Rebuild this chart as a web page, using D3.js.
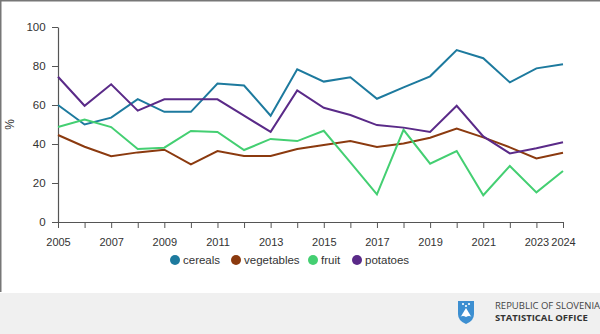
<!DOCTYPE html>
<html>
<head>
<meta charset="utf-8">
<script src="https://cdn.jsdelivr.net/npm/d3@7"></script>
<style>
  body { margin: 0; background: #fff; font-family: "Liberation Sans", Arial, sans-serif; }
  svg { display: block; }
</style>
</head>
<body>
<div id="chart"></div>
<script>
// data
const years = d3.range(2005, 2025);
const tickYears = [2005, 2007, 2009, 2011, 2013, 2015, 2017, 2019, 2021, 2023, 2024];
const yTicks = [0, 20, 40, 60, 80, 100];

const cereals = [60, 50, 53.5, 63, 56.5, 56.5, 71, 70, 54.5, 78.3, 72, 74.2, 63.2, 69, 74.7, 88.2, 84, 71.6, 78.8, 80.9];
const vegetables = [44.6, 38.6, 33.7, 35.7, 37.1, 29.6, 36.4, 33.8, 33.8, 37.4, 39.5, 41.5, 38.5, 40.3, 43.2, 47.9, 43.4, 38.3, 32.6, 35.5];
const fruit = [48.7, 52.6, 48.7, 37.4, 38.1, 46.7, 46.2, 36.9, 42.6, 41.5, 46.8, 30.6, 14.2, 47.3, 29.9, 36.4, 13.7, 28.7, 15.2, 26.2];
const potatoes = [74.5, 59.6, 70.6, 57.1, 62.9, 62.9, 62.9, 54.5, 46.2, 67.5, 58.6, 54.9, 49.7, 48.4, 46.2, 59.6, 43.9, 35.2, 37.8, 40.9];

const seriesNames = ["cereals", "vegetables", "fruit", "potatoes"];
const seriesValues = [cereals, vegetables, fruit, potatoes];
const colors = ["#1d7a9e", "#8b3a0f", "#44cf72", "#5a2a88"];

const W = 600, H = 334;
const margin = { top: 27, right: 37, bottom: 112, left: 58 };
const width = W - margin.left - margin.right;
const height = H - margin.top - margin.bottom;

const svg = d3.select("#chart").append("svg")
    .attr("width", W)
    .attr("height", H);

// frame and footer
svg.append("line").attr("x1", 0).attr("x2", W).attr("y1", 0.5).attr("y2", 0.5).attr("stroke", "#777").attr("stroke-width", 2);
svg.append("line").attr("x1", 0.5).attr("x2", 0.5).attr("y1", 0).attr("y2", 292).attr("stroke", "#777").attr("stroke-width", 2);
svg.append("rect").attr("x", 0).attr("y", 293).attr("width", W).attr("height", H - 293).attr("fill", "#f0f0f0");

const g = svg.append("g")
    .attr("transform", `translate(${margin.left},${margin.top})`);

const x = d3.scaleLinear().domain([2005, 2024]).range([0, width]);
const y = d3.scaleLinear().domain([0, 100]).range([height, 0]);

// axes
const xAxis = g.append("g")
    .attr("transform", `translate(0,${height})`)
    .call(d3.axisBottom(x).tickValues(years).tickSize(6).tickSizeOuter(0)
        .tickFormat(d => tickYears.includes(d) ? d : ""));

const yAxis = g.append("g")
    .call(d3.axisLeft(y).tickValues(yTicks).tickSize(6).tickSizeOuter(0));

[xAxis, yAxis].forEach(a => {
  a.select(".domain").attr("stroke", "#555").attr("stroke-width", 1.2);
  a.selectAll(".tick line").attr("stroke", "#555");
  a.selectAll("text").attr("fill", "#333").style("font-size", "11.5px")
    .style("font-family", "'Liberation Sans', Arial, sans-serif");
});
xAxis.selectAll("text").style("font-size", "11px").attr("dy", "1.35em");
yAxis.selectAll("text").attr("dx", "-0.3em");

g.append("text")
    .attr("transform", `translate(${-44},${height / 2}) rotate(-90)`)
    .attr("text-anchor", "middle")
    .attr("fill", "#333")
    .style("font-size", "12px")
    .text("%");

// lines
const line = d3.line()
    .x((d, i) => x(years[i]))
    .y(d => y(d));

seriesValues.forEach((vals, k) => {
  g.append("path")
      .datum(vals)
      .attr("fill", "none")
      .attr("stroke", colors[k])
      .attr("stroke-width", 2)
      .attr("d", line);
});

// legend
const legendX = [175, 236, 313, 357];
const legend = svg.append("g").attr("transform", "translate(0,260)");
seriesNames.forEach((name, k) => {
  legend.append("circle").attr("cx", legendX[k]).attr("cy", 0).attr("r", 5).attr("fill", colors[k]);
  legend.append("text").attr("x", legendX[k] + 8).attr("y", 0).attr("dy", "0.35em")
      .attr("fill", "#333").style("font-size", "11.5px").text(name);
});

// footer logo
const logo = svg.append("g").attr("transform", "translate(466,312)");
logo.append("path")
    .attr("d", "M-8,-11 L8,-11 L8,2 Q8,9 0,12 Q-8,9 -8,2 Z")
    .attr("fill", "#3d8fd1");
logo.append("path")
    .attr("d", "M-6,6 L-3,1 L0,-4 L3,1 L6,6 Z")
    .attr("fill", "#fff");
logo.append("path")
    .attr("d", "M-6,5 Q-3,3 0,5 Q3,3 6,5 L6,7 Q3,5 0,7 Q-3,5 -6,7 Z")
    .attr("fill", "#3d8fd1");
[[-3, -8], [3, -8], [0, -6]].forEach(p => {
  logo.append("circle").attr("cx", p[0]).attr("cy", p[1]).attr("r", 1.1).attr("fill", "#fff");
});

svg.append("text").attr("x", 495).attr("y", 309)
    .attr("fill", "#444").style("font-size", "9.5px")
    .style("font-family", "'Open Sans', sans-serif")
    .text("REPUBLIC OF SLOVENIA");
svg.append("text").attr("x", 495).attr("y", 321)
    .attr("fill", "#333").style("font-size", "9.5px").style("font-weight", "bold")
    .style("font-family", "'Open Sans', sans-serif")
    .text("STATISTICAL OFFICE");
</script>
</body>
</html>
